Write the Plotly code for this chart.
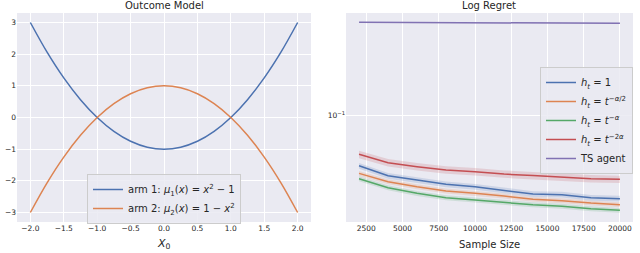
import plotly.graph_objects as go

# ---------------- Data ----------------
# Left panel: outcome model curves
x0_vals = [-2.0, -1.75, -1.5, -1.25, -1.0, -0.75, -0.5, -0.25, 0.0,
           0.25, 0.5, 0.75, 1.0, 1.25, 1.5, 1.75, 2.0]
arm1_vals = [3.0, 2.0625, 1.25, 0.5625, 0.0, -0.4375, -0.75, -0.9375, -1.0,
             -0.9375, -0.75, -0.4375, 0.0, 0.5625, 1.25, 2.0625, 3.0]
arm2_vals = [-3.0, -2.0625, -1.25, -0.5625, 0.0, 0.4375, 0.75, 0.9375, 1.0,
             0.9375, 0.75, 0.4375, 0.0, -0.5625, -1.25, -2.0625, -3.0]

# Right panel: log regret vs sample size
sample_size = [2000, 4000, 6000, 8000, 10000, 12000, 14000, 16000, 18000, 20000]
regret_h1 = [0.0541, 0.0479, 0.0455, 0.0432, 0.0419, 0.0400, 0.0384, 0.0381, 0.0367, 0.0363]
regret_half = [0.0493, 0.0446, 0.0419, 0.0398, 0.0387, 0.0375, 0.0360, 0.0354, 0.0344, 0.0337]
regret_alpha = [0.0462, 0.0414, 0.0387, 0.0367, 0.0357, 0.0347, 0.0337, 0.0331, 0.0321, 0.0315]
regret_2alpha = [0.0621, 0.0561, 0.0535, 0.0514, 0.0503, 0.0489, 0.0480, 0.0470, 0.0462, 0.0459]
regret_ts = [0.3076, 0.3072, 0.3068, 0.3064, 0.3060, 0.3056, 0.3052, 0.3048, 0.3044, 0.3040]
# relative half-width of confidence bands
ci_h1 = [0.035, 0.035, 0.035, 0.035, 0.035, 0.035, 0.035, 0.035, 0.035, 0.035]
ci_half = [0.03, 0.03, 0.03, 0.03, 0.03, 0.03, 0.03, 0.03, 0.03, 0.03]
ci_alpha = [0.03, 0.03, 0.03, 0.03, 0.03, 0.03, 0.03, 0.03, 0.03, 0.03]
ci_2alpha = [0.045, 0.045, 0.045, 0.045, 0.045, 0.045, 0.045, 0.045, 0.045, 0.045]
ci_ts = [0.004, 0.004, 0.004, 0.004, 0.004, 0.004, 0.004, 0.004, 0.004, 0.004]

left_xticks = [-2.0, -1.5, -1.0, -0.5, 0.0, 0.5, 1.0, 1.5, 2.0]
left_yticks = [-3, -2, -1, 0, 1, 2, 3]
right_xticks = [2500, 5000, 7500, 10000, 12500, 15000, 17500, 20000]

# ---------------- Style ----------------
BLUE, ORANGE, GREEN, RED, PURPLE = "#4C72B0", "#DD8452", "#55A868", "#C44E52", "#8172B3"
BG = "#EAEAF2"
FONT = "DejaVu Sans"
TXT = "#262626"


def fmt(v):
    s = f"{abs(v):.1f}"
    return ("\u2212" + s) if v < 0 else s


def rgba(hexc, a):
    h = hexc.lstrip("#")
    r, g, b = int(h[0:2], 16), int(h[2:4], 16), int(h[4:6], 16)
    return f"rgba({r},{g},{b},{a})"


fig = go.Figure()

# Left panel
fig.add_trace(go.Scatter(x=x0_vals, y=arm1_vals, mode="lines", line=dict(color=BLUE, width=1.5, shape="spline"),
                         name="arm 1: <i>μ</i><sub>1</sub>(<i>x</i>) = <i>x</i><sup>2</sup> − 1",
                         xaxis="x", yaxis="y", legend="legend"))
fig.add_trace(go.Scatter(x=x0_vals, y=arm2_vals, mode="lines", line=dict(color=ORANGE, width=1.5, shape="spline"),
                         name="arm 2: <i>μ</i><sub>2</sub>(<i>x</i>) = 1 − <i>x</i><sup>2</sup>",
                         xaxis="x", yaxis="y", legend="legend"))

# Right panel
series = [
    ("<i>h<sub>t</sub></i> = 1", regret_h1, ci_h1, BLUE),
    ("<i>h<sub>t</sub></i> = <i>t</i><sup>−<i>α</i>/2</sup>", regret_half, ci_half, ORANGE),
    ("<i>h<sub>t</sub></i> = <i>t</i><sup>−<i>α</i></sup>", regret_alpha, ci_alpha, GREEN),
    ("<i>h<sub>t</sub></i> = <i>t</i><sup>−2<i>α</i></sup>", regret_2alpha, ci_2alpha, RED),
    ("TS agent", regret_ts, ci_ts, PURPLE),
]
for name, vals, ci, col in series:
    lo = [v * (1 - c) for v, c in zip(vals, ci)]
    hi = [v * (1 + c) for v, c in zip(vals, ci)]
    fig.add_trace(go.Scatter(x=sample_size, y=lo, mode="lines", line=dict(width=0, color=col),
                             showlegend=False, hoverinfo="skip", xaxis="x2", yaxis="y2"))
    fig.add_trace(go.Scatter(x=sample_size, y=hi, mode="lines", line=dict(width=0, color=col),
                             fill="tonexty", fillcolor=rgba(col, 0.18),
                             showlegend=False, hoverinfo="skip", xaxis="x2", yaxis="y2"))
    fig.add_trace(go.Scatter(x=sample_size, y=vals, mode="lines", line=dict(color=col, width=1.5),
                             name=name, xaxis="x2", yaxis="y2", legend="legend2"))

W, H = 640, 253
yd = [1 - 222 / H, 1 - 13 / H]
axis_common = dict(showgrid=True, gridcolor="white", gridwidth=1, zeroline=False, showline=False,
                   ticks="", automargin=False, tickfont=dict(size=7.5, color=TXT, family=FONT))

fig.update_layout(
    width=W, height=H,
    margin=dict(l=0, r=0, t=0, b=0),
    paper_bgcolor="white",
    plot_bgcolor=BG,
    font=dict(family=FONT, color=TXT),
    xaxis=dict(domain=[17 / W, 311 / W], range=[-2.2, 2.2], tickvals=left_xticks,
               ticktext=[fmt(v) for v in left_xticks], anchor="y", **axis_common),
    yaxis=dict(domain=yd, range=[-3.3, 3.3], tickvals=left_yticks,
               ticktext=[("\u2212" + str(-v)) if v < 0 else str(v) for v in left_yticks], anchor="x",
               **axis_common),
    xaxis2=dict(domain=[346 / W, 633 / W], range=[1100, 20900], tickvals=right_xticks,
                ticktext=[str(v) for v in right_xticks], anchor="y2", **axis_common),
    yaxis2=dict(domain=yd, type="log", range=[-1.563, -0.463], tickvals=[0.1],
                ticktext=["10<sup>−1</sup>"], anchor="x2", **axis_common),
    legend=dict(x=87 / W, y=1 - 174 / H, xanchor="left", yanchor="top", traceorder="normal",
                bgcolor="rgba(234,234,242,0.85)", bordercolor="#cccccc", borderwidth=1,
                font=dict(size=10, color=TXT, family=FONT), tracegroupgap=0, itemwidth=30),
    legend2=dict(x=633 / W, y=1 - 67 / H, xanchor="right", yanchor="top", traceorder="normal",
                 bgcolor="rgba(234,234,242,0.85)", bordercolor="#cccccc", borderwidth=1,
                 font=dict(size=10, color=TXT, family=FONT), tracegroupgap=0, itemwidth=30),
    annotations=[
        dict(text="Outcome Model", x=164 / W, y=1 - 6 / H, xref="paper", yref="paper",
             showarrow=False, font=dict(size=10, color=TXT), xanchor="center", yanchor="middle"),
        dict(text="Log Regret", x=489 / W, y=1 - 6 / H, xref="paper", yref="paper",
             showarrow=False, font=dict(size=10, color=TXT), xanchor="center", yanchor="middle"),
        dict(text="<i>X</i><sub>0</sub>", x=164 / W, y=1 - 244 / H, xref="paper", yref="paper",
             showarrow=False, font=dict(size=11, color=TXT), xanchor="center", yanchor="middle"),
        dict(text="Sample Size", x=489 / W, y=1 - 244 / H, xref="paper", yref="paper",
             showarrow=False, font=dict(size=10, color=TXT), xanchor="center", yanchor="middle"),
    ],
)

fig.write_html("out.html", config={"displayModeBar": False},
               post_script="document.body.style.margin='0';document.body.style.overflow='hidden';")
